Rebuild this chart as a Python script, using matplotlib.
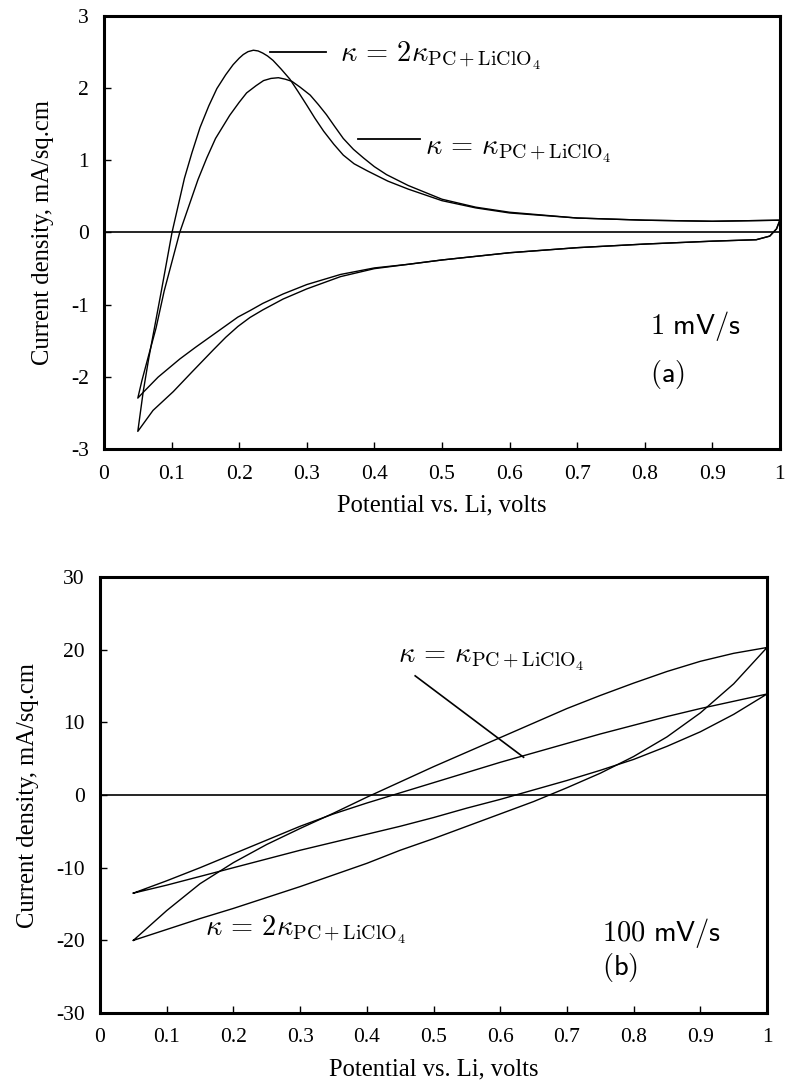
import matplotlib
matplotlib.use('Agg')
import matplotlib.pyplot as plt
from matplotlib.ticker import FixedLocator, FuncFormatter

plt.rcParams['mathtext.fontset'] = 'cm'
plt.rcParams['axes.unicode_minus'] = False
plt.rcParams['font.family'] = ['Liberation Serif', 'DejaVu Serif']

# ---------------- data: panel (a), 1 mV/s ----------------
# kappa = 2 kappa_PC+LiClO4 : cathodic sweep (1.0 -> 0.05)
a2_cath_x = [1.0, 0.995, 0.985, 0.965, 0.9, 0.8, 0.7, 0.6, 0.5, 0.45, 0.40, 0.35,
             0.30, 0.265, 0.235, 0.216, 0.198, 0.18, 0.162, 0.13, 0.1025, 0.0725, 0.05]
a2_cath_y = [0.17, 0.05, -0.05, -0.10, -0.12, -0.16, -0.21, -0.28, -0.38, -0.44, -0.50, -0.61,
             -0.78, -0.92, -1.07, -1.175, -1.30, -1.45, -1.62, -1.93, -2.20, -2.46, -2.75]
# anodic sweep (0.05 -> 1.0)
a2_anod_x = [0.05, 0.058, 0.066, 0.075, 0.085, 0.1006, 0.119, 0.13, 0.142, 0.155, 0.167,
             0.18, 0.191, 0.2, 0.206, 0.213, 0.221, 0.228, 0.235, 0.242, 0.25, 0.262, 0.275,
             0.287, 0.30, 0.312, 0.325, 0.34, 0.354, 0.37, 0.39, 0.42, 0.45, 0.5, 0.55,
             0.6, 0.7, 0.8, 0.9, 1.0]
a2_anod_y = [-2.75, -2.2, -1.75, -1.3, -0.80, 0.0, 0.75, 1.10, 1.45, 1.75, 1.99,
             2.18, 2.32, 2.41, 2.46, 2.50, 2.52, 2.51, 2.48, 2.44, 2.38, 2.26, 2.12,
             1.95, 1.76, 1.58, 1.40, 1.22, 1.07, 0.95, 0.85, 0.71, 0.60, 0.44, 0.34,
             0.27, 0.20, 0.17, 0.155, 0.17]

# kappa = kappa_PC+LiClO4
a1_cath_x = [1.0, 0.995, 0.985, 0.965, 0.9, 0.8, 0.7, 0.6, 0.5, 0.45, 0.40, 0.35, 0.30,
             0.265, 0.235, 0.216, 0.198, 0.18, 0.162, 0.135, 0.112, 0.08, 0.058, 0.05]
a1_cath_y = [0.17, 0.05, -0.05, -0.10, -0.12, -0.16, -0.21, -0.28, -0.38, -0.44, -0.49, -0.58, -0.72,
             -0.85, -0.98, -1.08, -1.17, -1.29, -1.41, -1.59, -1.75, -2.0, -2.21, -2.29]
a1_anod_x = [0.05, 0.056, 0.066, 0.077, 0.089, 0.112, 0.139, 0.152, 0.165, 0.186, 0.2, 0.211,
             0.225, 0.236, 0.247, 0.258, 0.268, 0.278, 0.29, 0.305, 0.317, 0.329, 0.341,
             0.354, 0.369, 0.384, 0.40, 0.418, 0.45, 0.5, 0.55, 0.6, 0.7, 0.8, 0.9, 1.0]
a1_anod_y = [-2.29, -2.05, -1.7, -1.32, -0.81, 0.0, 0.73, 1.03, 1.30, 1.62, 1.80, 1.93,
             2.03, 2.10, 2.13, 2.14, 2.12, 2.09, 2.01, 1.90, 1.77, 1.63, 1.47,
             1.30, 1.15, 1.03, 0.91, 0.80, 0.65, 0.46, 0.35, 0.28, 0.20, 0.17, 0.155, 0.17]

# ---------------- data: panel (b), 100 mV/s ----------------
b_x = [0.05, 0.1, 0.15, 0.2, 0.25, 0.3, 0.35, 0.4, 0.45, 0.5, 0.55, 0.6, 0.65, 0.7,
       0.75, 0.8, 0.85, 0.9, 0.95, 1.0]
# kappa = 2 kappa : upper and lower branches
b2_upper = [-20.0, -15.9, -12.2, -9.3, -6.8, -4.6, -2.5, -0.3, 1.8, 3.9, 5.9, 7.9, 9.9, 11.9,
            13.7, 15.4, 17.0, 18.4, 19.5, 20.3]
b2_lower = [-20.0, -18.5, -17.0, -15.6, -14.1, -12.6, -11.0, -9.4, -7.6, -6.0, -4.3, -2.6, -0.9, 1.0,
            3.0, 5.3, 8.0, 11.3, 15.3, 20.3]
# kappa = kappa
b1_upper = [-13.5, -11.8, -10.0, -8.1, -6.2, -4.3, -2.6, -1.1, 0.3, 1.7, 3.1, 4.5, 5.8, 7.1,
            8.4, 9.6, 10.8, 11.9, 12.9, 13.9]
b1_lower = [-13.5, -12.4, -11.2, -10.0, -8.8, -7.6, -6.5, -5.4, -4.3, -3.1, -1.8, -0.6, 0.7, 2.0,
            3.4, 4.9, 6.7, 8.7, 11.1, 13.9]

x_ticks = [0, 0.1, 0.2, 0.3, 0.4, 0.5, 0.6, 0.7, 0.8, 0.9, 1.0]
a_yticks = [-3, -2, -1, 0, 1, 2, 3]
b_yticks = [-30, -20, -10, 0, 10, 20, 30]

xlabel = 'Potential vs. Li, volts'
ylabel = 'Current density, mA/sq.cm'
lab2k = r'$\kappa\,=\,2\kappa_{\mathrm{PC+LiClO}_4}$'
lab1k = r'$\kappa\,=\,\kappa_{\mathrm{PC+LiClO}_4}$'

LW = 1.0
TICK_FS = 15.5
LAB_FS = 17.7
ANN_FS = 20.5

fig = plt.figure(figsize=(7.85, 10.92), dpi=100)
ax1 = fig.add_axes([0.1325, 0.5884, 0.861, 0.3974])
ax2 = fig.add_axes([0.1274, 0.0723, 0.8497, 0.3993])

fmt = FuncFormatter(lambda v, p: '%g' % round(v, 3))


def style(ax, yticks, ylim):
    ax.set_xlim(0, 1)
    ax.set_ylim(*ylim)
    ax.xaxis.set_major_locator(FixedLocator(x_ticks))
    ax.yaxis.set_major_locator(FixedLocator(yticks))
    ax.xaxis.set_major_formatter(fmt)
    ax.yaxis.set_major_formatter(fmt)
    ax.tick_params(direction='in', length=5, width=1.0, labelsize=TICK_FS, pad=11,
                   top=False, right=False)
    for s in ax.spines.values():
        s.set_linewidth(2.2)
    ax.axhline(0, color='black', lw=1.2, zorder=1)
    ax.set_xlabel(xlabel, fontsize=LAB_FS, labelpad=8)
    ax.set_ylabel(ylabel, fontsize=LAB_FS, labelpad=12)


style(ax1, a_yticks, (-3, 3))
style(ax2, b_yticks, (-30, 30))

# panel (a) curves
ax1.plot(a2_cath_x + a2_anod_x, a2_cath_y + a2_anod_y, color='black', lw=LW)
ax1.plot(a1_cath_x + a1_anod_x, a1_cath_y + a1_anod_y, color='black', lw=LW)

ax1.plot([0.246, 0.329], [2.50, 2.50], color='black', lw=1.3)
ax1.text(0.349, 2.36, lab2k, fontsize=ANN_FS, va='baseline', ha='left')
ax1.plot([0.376, 0.4675], [1.29, 1.29], color='black', lw=1.3)
ax1.text(0.475, 1.08, lab1k, fontsize=ANN_FS, va='baseline', ha='left')
ax1.text(0.808, -1.40, r'$\mathsf{1\ mV/s}$', fontsize=ANN_FS, va='baseline', ha='left')
ax1.text(0.808, -2.07, r'$\mathsf{(a)}$', fontsize=ANN_FS, va='baseline', ha='left')

# panel (b) curves
ax2.plot(b_x + b_x[::-1], b2_upper + b2_lower[::-1], color='black', lw=LW)
ax2.plot(b_x + b_x[::-1], b1_upper + b1_lower[::-1], color='black', lw=LW)

ax2.text(0.4475, 18.2, lab1k, fontsize=ANN_FS, va='baseline', ha='left')
ax2.plot([0.4725, 0.635], [16.4, 5.2], color='black', lw=1.2)
ax2.text(0.157, -19.3, lab2k, fontsize=ANN_FS, va='baseline', ha='left')
ax2.text(0.7525, -20.1, r'$\mathsf{100\ mV/s}$', fontsize=ANN_FS, va='baseline', ha='left')
ax2.text(0.7525, -24.8, r'$\mathsf{(b)}$', fontsize=ANN_FS, va='baseline', ha='left')

fig.savefig('out.png', dpi=100)
